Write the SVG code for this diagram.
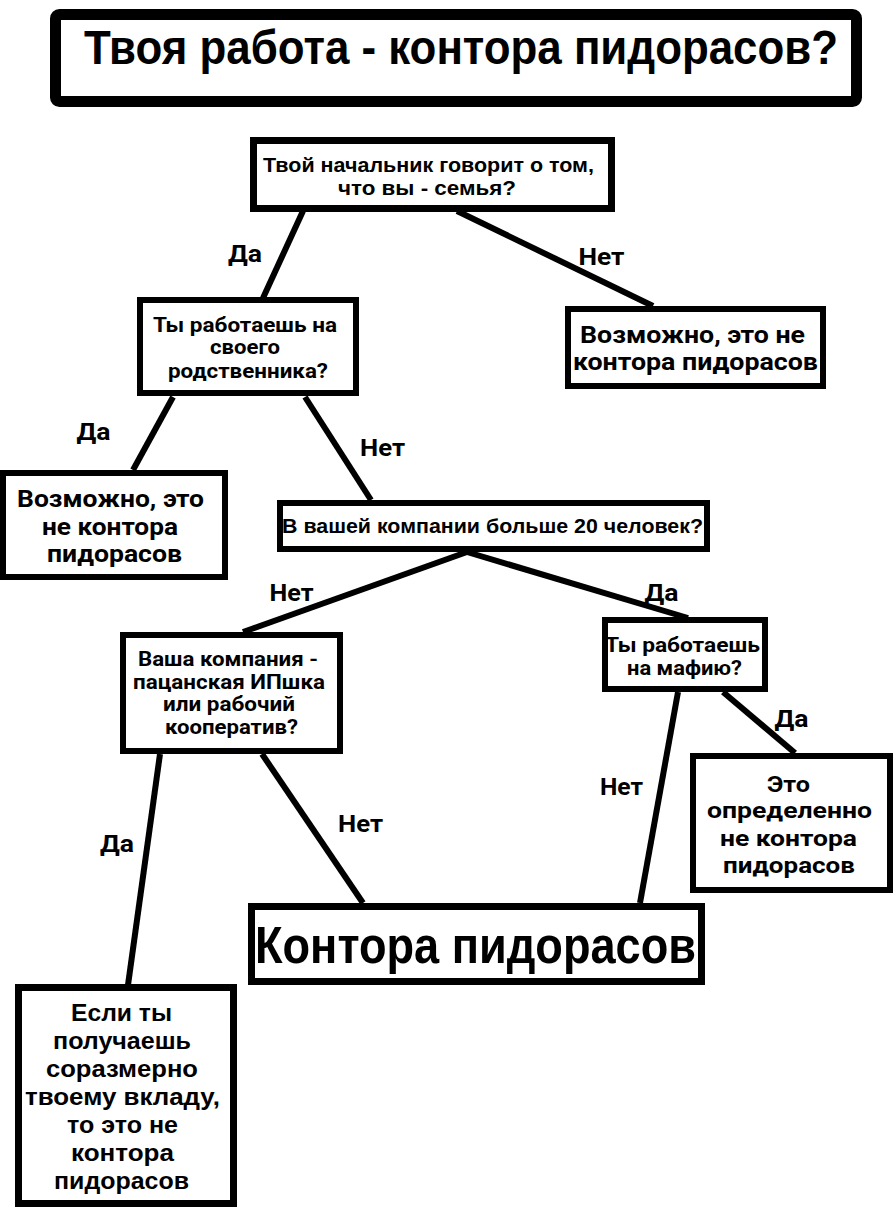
<svg xmlns="http://www.w3.org/2000/svg" width="894" height="1224" viewBox="0 0 894 1224">
<style>
.box{fill:#fff;stroke:#000;stroke-width:6}
.c{font-family:"Liberation Sans",Arial,sans-serif;font-weight:700;fill:#000;text-anchor:middle}
.r{font-family:Roboto,"Noto Sans",sans-serif;font-weight:700;fill:#000;text-anchor:middle}
.lbl{font-family:Roboto,"Noto Sans",sans-serif;font-weight:700;fill:#000;text-anchor:middle;font-size:24px}
.edge{stroke:#000;stroke-width:6;fill:none}
</style>
<rect width="894" height="1224" fill="#fff"/>
<g id="connectors">
<line class="edge" x1="303" y1="211" x2="263" y2="298"/>
<line class="edge" x1="457" y1="211" x2="653" y2="306"/>
<line class="edge" x1="173" y1="397" x2="133" y2="470"/>
<line class="edge" x1="305" y1="397" x2="371" y2="500"/>
<line class="edge" x1="467" y1="552" x2="243" y2="632"/>
<line class="edge" x1="467" y1="552" x2="688" y2="618"/>
<line class="edge" x1="160" y1="754" x2="128" y2="985"/>
<line class="edge" x1="262" y1="754" x2="363" y2="903"/>
<line class="edge" x1="678" y1="692" x2="640" y2="903"/>
<line class="edge" x1="723" y1="692" x2="795" y2="753"/>
<text class="lbl" x="245" y="262" textLength="34" lengthAdjust="spacingAndGlyphs">Да</text>
<text class="lbl" x="601.5" y="265" textLength="46" lengthAdjust="spacingAndGlyphs">Нет</text>
<text class="lbl" x="93.5" y="440" textLength="34" lengthAdjust="spacingAndGlyphs">Да</text>
<text class="lbl" x="382.5" y="456" textLength="45" lengthAdjust="spacingAndGlyphs">Нет</text>
<text class="lbl" x="291.5" y="601" textLength="44" lengthAdjust="spacingAndGlyphs">Нет</text>
<text class="lbl" x="661.5" y="601" textLength="34" lengthAdjust="spacingAndGlyphs">Да</text>
<text class="lbl" x="117" y="852" textLength="34" lengthAdjust="spacingAndGlyphs">Да</text>
<text class="lbl" x="360.5" y="832" textLength="45" lengthAdjust="spacingAndGlyphs">Нет</text>
<text class="lbl" x="621.5" y="795" textLength="43" lengthAdjust="spacingAndGlyphs">Нет</text>
<text class="lbl" x="791.5" y="727" textLength="34" lengthAdjust="spacingAndGlyphs">Да</text>
</g>
<g id="title">
<rect x="55.5" y="14.5" width="801" height="87" rx="4" fill="#fff" stroke="#000" stroke-width="11"/>
<text class="c" transform="translate(461 64) scale(1 1.12)" x="0" y="0" font-size="43" textLength="754" lengthAdjust="spacingAndGlyphs">Твоя работа - контора пидорасов?</text>
</g>
<g id="n1">
<rect class="box" x="253.5" y="140.5" width="358" height="68" style="stroke-width:7"/>
<text class="c" x="428.5" y="172" font-size="21" textLength="331" lengthAdjust="spacingAndGlyphs">Твой начальник говорит о том,</text>
<text class="c" x="427" y="195" font-size="21" textLength="178" lengthAdjust="spacingAndGlyphs">что вы - семья?</text>
</g>
<g id="n2">
<rect class="box" x="140" y="300" width="216" height="93"/>
<text class="r" x="245" y="332" font-size="20" textLength="184" lengthAdjust="spacingAndGlyphs">Ты работаешь на</text>
<text class="r" x="245" y="354" font-size="20" textLength="70" lengthAdjust="spacingAndGlyphs">своего</text>
<text class="r" x="248" y="378" font-size="20" textLength="160" lengthAdjust="spacingAndGlyphs">родственника?</text>
</g>
<g id="n3">
<rect class="box" x="3" y="473" width="222" height="104"/>
<text class="r" x="110.5" y="507" font-size="24" textLength="187" lengthAdjust="spacingAndGlyphs">Возможно, это</text>
<text class="r" x="110" y="535" font-size="24" textLength="136" lengthAdjust="spacingAndGlyphs">не контора</text>
<text class="r" x="114.5" y="562" font-size="24" textLength="135" lengthAdjust="spacingAndGlyphs">пидорасов</text>
</g>
<g id="n4">
<rect class="box" x="568" y="309" width="255" height="77"/>
<text class="r" x="692.5" y="343" font-size="24" textLength="225" lengthAdjust="spacingAndGlyphs">Возможно, это не</text>
<text class="r" x="695.5" y="370" font-size="24" textLength="245" lengthAdjust="spacingAndGlyphs">контора пидорасов</text>
</g>
<g id="n5">
<rect class="box" x="280" y="503" width="427" height="46"/>
<text class="c" x="492.5" y="533" font-size="21" textLength="421" lengthAdjust="spacingAndGlyphs">В вашей компании больше 20 человек?</text>
</g>
<g id="n6">
<rect class="box" x="123" y="635" width="217" height="116"/>
<text class="r" x="228" y="666" font-size="20" textLength="180" lengthAdjust="spacingAndGlyphs">Ваша компания -</text>
<text class="r" x="229" y="689" font-size="20" textLength="192" lengthAdjust="spacingAndGlyphs">пацанская ИПшка</text>
<text class="r" x="229" y="711" font-size="20" textLength="132" lengthAdjust="spacingAndGlyphs">или рабочий</text>
<text class="r" x="231.5" y="734" font-size="20" textLength="133" lengthAdjust="spacingAndGlyphs">кооператив?</text>
</g>
<g id="n7">
<rect class="box" x="605" y="620" width="160" height="69"/>
<text class="r" x="682.5" y="652" font-size="21" textLength="155" lengthAdjust="spacingAndGlyphs">Ты работаешь</text>
<text class="r" x="684.5" y="675" font-size="21" textLength="115" lengthAdjust="spacingAndGlyphs">на мафию?</text>
</g>
<g id="n8">
<rect class="box" x="693" y="756" width="197" height="134"/>
<text class="r" x="788.5" y="792" font-size="22" textLength="43" lengthAdjust="spacingAndGlyphs">Это</text>
<text class="r" x="789.5" y="818" font-size="22" textLength="165" lengthAdjust="spacingAndGlyphs">определенно</text>
<text class="r" x="788.5" y="846" font-size="22" textLength="137" lengthAdjust="spacingAndGlyphs">не контора</text>
<text class="r" x="789" y="873" font-size="22" textLength="132" lengthAdjust="spacingAndGlyphs">пидорасов</text>
</g>
<g id="n9">
<rect class="box" x="251.5" y="906.5" width="450" height="75" style="stroke-width:7"/>
<text class="c" x="475.5" y="963" font-size="52" textLength="441" lengthAdjust="spacingAndGlyphs">Контора пидорасов</text>
</g>
<g id="n10">
<rect class="box" x="18.5" y="987.5" width="215" height="216" style="stroke-width:7"/>
<text class="c" x="121.5" y="1021" font-size="24" textLength="101" lengthAdjust="spacingAndGlyphs">Если ты</text>
<text class="c" x="122" y="1049" font-size="24" textLength="138" lengthAdjust="spacingAndGlyphs">получаешь</text>
<text class="c" x="122" y="1077" font-size="24" textLength="152" lengthAdjust="spacingAndGlyphs">соразмерно</text>
<text class="c" x="122.5" y="1105" font-size="24" textLength="195" lengthAdjust="spacingAndGlyphs">твоему вкладу,</text>
<text class="c" x="122.5" y="1133" font-size="24" textLength="111" lengthAdjust="spacingAndGlyphs">то это не</text>
<text class="c" x="122.5" y="1161" font-size="24" textLength="103" lengthAdjust="spacingAndGlyphs">контора</text>
<text class="c" x="121.5" y="1189" font-size="24" textLength="135" lengthAdjust="spacingAndGlyphs">пидорасов</text>
</g>
</svg>
